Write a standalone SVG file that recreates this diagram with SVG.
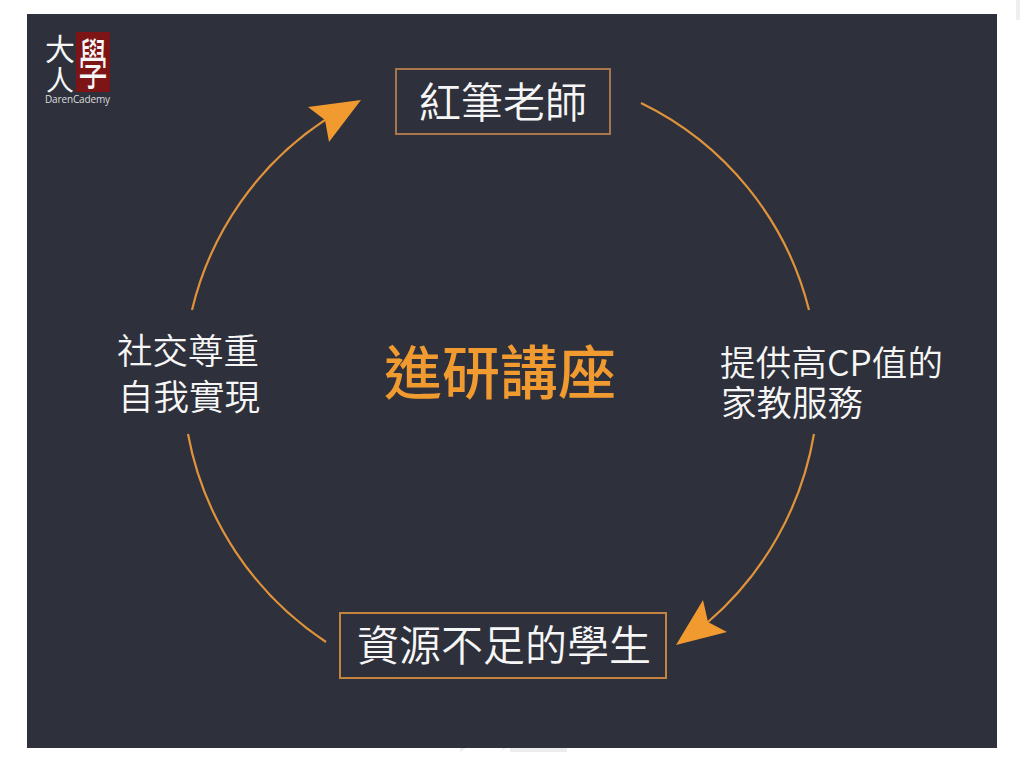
<svg xmlns="http://www.w3.org/2000/svg" width="1024" height="757" viewBox="0 0 1024 757">
<style>
text{font-family:"Noto Sans CJK TC","Noto Sans",sans-serif;fill:#f6f6f6;font-weight:350}
.box{fill:none;stroke-width:2}
.arc{fill:none;stroke:#e0933a;stroke-width:2.2}
.head{fill:#f09a30}
.lab{font-size:35.5px}
.big{font-size:42px}
</style>
<rect width="1024" height="757" fill="#fff"/>
<rect x="1016" y="0" width="4" height="20" fill="#efefef"/>
<rect x="27" y="14" width="970" height="734" fill="#2e303b"/>
<path d="M460 752l6-4h-6zM500 752l3-4h3zM510 748h57v4h-57z" fill="#ececec"/>
<g id="logo">
<rect x="76" y="32" width="34" height="60" fill="#7d1416"/>
<text x="60" y="60" font-size="30" text-anchor="middle" style="font-weight:400">大</text>
<text x="60" y="91" font-size="28" text-anchor="middle" style="font-weight:400">人</text>
<text transform="translate(93 84) scale(1 1.9)" font-size="29" text-anchor="middle" style="font-weight:400">學</text>
<text x="45" y="103" font-size="10" textLength="65" style="font-family:'Open Sans',sans-serif;fill:#ddd;font-weight:400">DarenCademy</text>
</g>
<g id="connectors">
<path class="arc" d="M641 103A315 315 0 0 1 809 310"/>
<path class="arc" d="M814 434A319 319 0 0 1 708 622"/>
<path class="arc" d="M326 642A319 319 0 0 1 188 434"/>
<path class="arc" d="M192 310A316 316 0 0 1 325 120"/>
<polygon class="head" points="361,100 308,107 325,120 329,142"/>
<polygon class="head" points="676,645 703,600 708,622 727,632"/>
</g>
<g id="node-top">
<rect class="box" x="396" y="69" width="214" height="65" stroke="#a8764a"/>
<text class="big" x="503" y="118" text-anchor="middle">紅筆老師</text>
</g>
<g id="node-right">
<text class="lab" x="720" y="376" textLength="223">提供高CP值的</text>
<text class="lab" x="721" y="416">家教服務</text>
</g>
<g id="node-bottom">
<rect class="box" x="340" y="613" width="326" height="65" stroke="#c4843f"/>
<text class="big" x="504" y="661" text-anchor="middle">資源不足的學生</text>
</g>
<g id="node-left">
<text class="lab" x="188" y="364" text-anchor="middle">社交尊重</text>
<text class="lab" x="189" y="410" text-anchor="middle">自我實現</text>
</g>
<g id="center">
<text x="500" y="394" font-size="58" text-anchor="middle" style="fill:#f09a30;font-weight:500">進研講座</text>
</g>
</svg>
